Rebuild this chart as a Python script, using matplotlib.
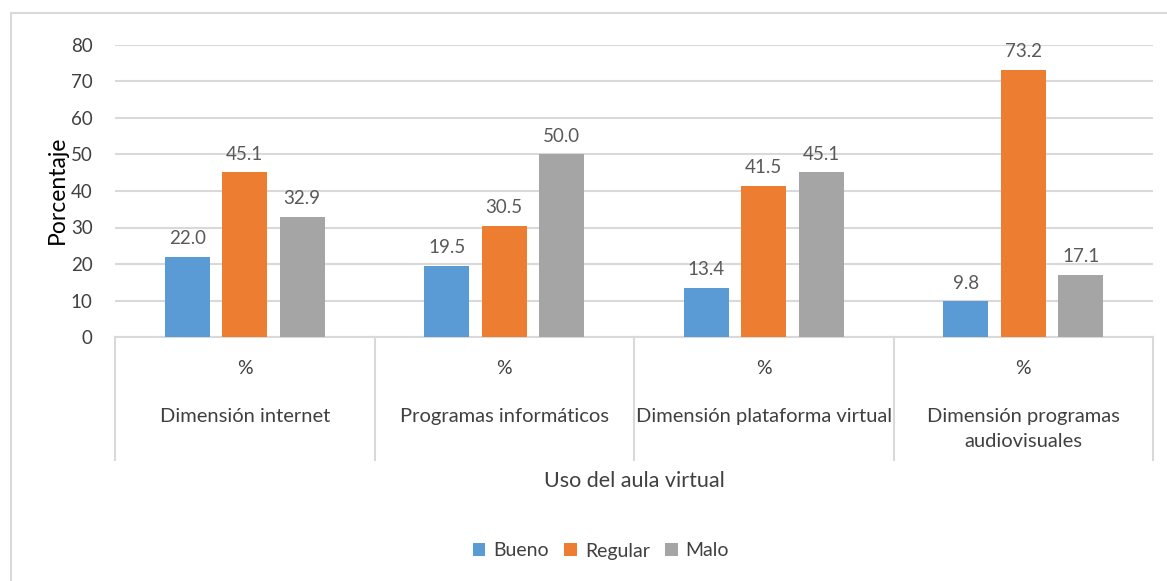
import numpy as np
import matplotlib.pyplot as plt
from matplotlib.patches import Rectangle

plt.rcParams['font.family'] = ['Lato', 'DejaVu Sans']

# data
categories = ['Dimensión internet', 'Programas informáticos',
              'Dimensión plataforma virtual', 'Dimensión programas\naudiovisuales']
series_names = ['Bueno', 'Regular', 'Malo']
bueno = [22.0, 19.5, 13.4, 9.8]
regular = [45.1, 30.5, 41.5, 73.2]
malo = [32.9, 50.0, 45.1, 17.1]
colors = ['#5B9BD5', '#ED7D31', '#A5A5A5']

W, H = 1167, 581
fig = plt.figure(figsize=(W / 100, H / 100), dpi=100)
ax = fig.add_axes([115 / W, 1 - 337 / H, (1153 - 115) / W, (337 - 45) / H])

# outer chart frame (cut off at right and bottom)
fig.patches.append(Rectangle((11 / W, -0.1), 1.2, 1 - 13 / H + 0.1,
                             transform=fig.transFigure, fill=False,
                             edgecolor='#d9d9d9', linewidth=1.5))

x = np.arange(len(categories))
bw = 0.173
step = 0.221
text_col = '#595959'
for i, (vals, name) in enumerate(zip([bueno, regular, malo], series_names)):
    pos = x + (i - 1) * step
    bars = ax.bar(pos, vals, width=bw, color=colors[i], label=name, zorder=3)
    for p, v in zip(pos, vals):
        ax.annotate('%.1f' % v, (p, v), xytext=(0, 7), textcoords='offset points',
                    ha='center', va='bottom', fontsize=13.5, color=text_col)

ax.set_xlim(-0.5, len(categories) - 0.5)
ax.set_ylim(0, 80)
ax.set_yticks(range(0, 81, 10))
ax.tick_params(axis='y', length=0, labelsize=13.5, labelcolor='#404040', pad=16)
ax.tick_params(axis='x', length=0, labelbottom=False)
ax.grid(axis='y', color='#d9d9d9', linewidth=1.5, zorder=0)
for s in ['top', 'right', 'left']:
    ax.spines[s].set_visible(False)
ax.spines['bottom'].set_color('#d9d9d9')
ax.spines['bottom'].set_linewidth(1.5)

# multi-level category axis
trans = ax.get_xaxis_transform()
px = 1 / (337 - 45)
for b in np.arange(-0.5, len(categories), 1.0):
    ax.plot([b, b], [0, -(460 - 337) * px], transform=trans, color='#d9d9d9',
            linewidth=1.5, clip_on=False)
for xi, cat in zip(x, categories):
    ax.text(xi, -(368 - 337) * px, '%', transform=trans, ha='center', va='center',
            fontsize=14, color='#404040')
    ax.text(xi, -(408 - 337) * px, cat, transform=trans, ha='center', va='top',
            fontsize=14.5, color='#404040', linespacing=1.6)

ax.text(0.5, -(481 - 337) * px, 'Uso del aula virtual', transform=ax.transAxes,
        ha='center', va='center', fontsize=15.5, color='#404040')
fig.text(57 / W, 1 - 190 / H, 'Porcentaje', rotation=90, ha='center', va='center',
         fontsize=16.5, color='#000000')

fig.legend(loc='center', bbox_to_anchor=(601 / W, 1 - 551 / H), ncol=3, frameon=False,
           fontsize=14, handlelength=0.65, handleheight=0.65, handletextpad=0.4,
           columnspacing=0.8, labelcolor='#404040')

fig.savefig('out.png', dpi=100)
